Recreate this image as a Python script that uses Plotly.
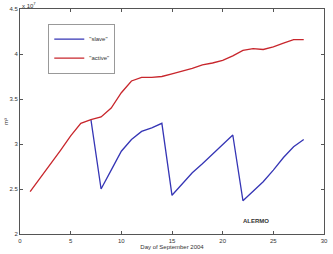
import plotly.graph_objects as go

days_slave = [7, 8, 9, 10, 11, 12, 13, 14, 15, 16, 17, 18, 19, 20, 21, 22, 23, 24, 25, 26, 27, 28]
slave = [3.27, 2.50, 2.71, 2.92, 3.05, 3.14, 3.18, 3.23, 2.43, 2.56, 2.68, 2.78, 2.89, 2.99, 3.10,
         2.37, 2.47, 2.58, 2.71, 2.85, 2.97, 3.05]
days_active = list(range(1, 29))
active = [2.47, 2.62, 2.77, 2.93, 3.09, 3.23, 3.27, 3.30, 3.40, 3.57, 3.70, 3.74, 3.74, 3.75,
          3.78, 3.81, 3.84, 3.88, 3.90, 3.93, 3.98, 4.04, 4.06, 4.05, 4.08, 4.12, 4.16, 4.16]
x_ticks = [0, 5, 10, 15, 20, 25, 30]
y_ticks = [2, 2.5, 3, 3.5, 4, 4.5]
y_tick_text = ["2", "2.5", "3", "3.5", "4", "4.5"]

txt = dict(size=6, family="Liberation Sans", color="#333")

fig = go.Figure()
fig.add_trace(go.Scatter(x=days_slave, y=slave, mode="lines", name='"slave"',
                         line=dict(color="#3535b5", width=1.3)))
fig.add_trace(go.Scatter(x=days_active, y=active, mode="lines", name='"active"',
                         line=dict(color="#c8262c", width=1.3)))

axis_common = dict(showgrid=False, zeroline=False, showline=True, linecolor="#555",
                   linewidth=1, mirror="ticks", ticks="inside", ticklen=3,
                   tickcolor="#555", tickfont=txt)
fig.update_xaxes(range=[0, 30], tickvals=x_ticks, ticklabelstandoff=1, **axis_common,
                 title=dict(text="Day of September 2004", font=txt, standoff=1))
fig.update_yaxes(range=[2, 4.5], tickvals=y_ticks, ticktext=y_tick_text, **axis_common,
                 title=dict(text="m³", font=txt, standoff=0))

fig.add_annotation(x=0, y=1, xref="paper", yref="paper", xanchor="left", yanchor="bottom",
                   text="x 10<sup>7</sup>", showarrow=False, font=txt, yshift=-2)
fig.add_annotation(x=23.3, y=2.15, text="<b>ALERMO</b>", showarrow=False, font=txt)

fig.update_layout(
    width=333, height=254,
    margin=dict(l=16, r=5, t=9, b=16),
    paper_bgcolor="white", plot_bgcolor="white",
    legend=dict(x=0.093, y=0.935, xanchor="left", yanchor="top",
                bordercolor="#999", borderwidth=1, bgcolor="white",
                font=txt, tracegroupgap=2, itemwidth=30),
    showlegend=True,
)
fig.write_html("out.html")
